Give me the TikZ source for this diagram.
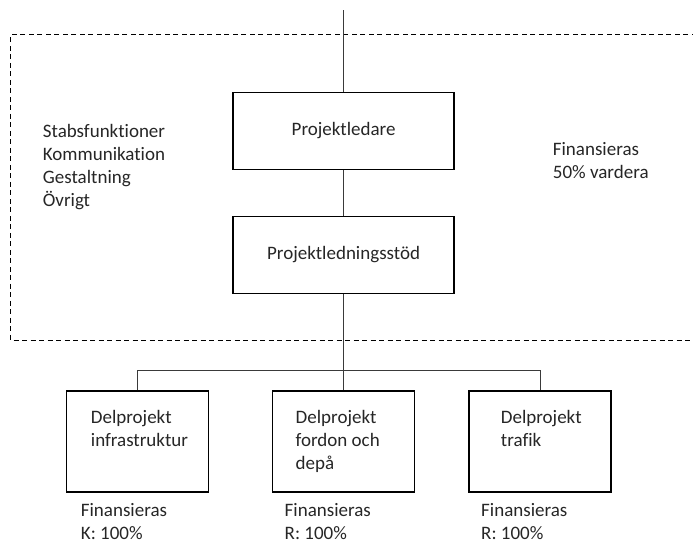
\documentclass[tikz,border=0pt]{standalone}
\usepackage{fontspec}
\setmainfont{Carlito}[Ligatures=NoCommon]
\definecolor{linegray}{HTML}{3A3A3A}
\definecolor{textgray}{HTML}{262626}

\begin{document}
\begin{tikzpicture}[x=1pt,y=-1pt,
    font=\fontsize{19}{23}\selectfont, text=textgray,
    orgbox/.style={draw=black, line width=1.3pt, minimum width=221pt, minimum height=77pt, inner sep=0pt},
    subbox/.style={draw=black, line width=1.3pt, minimum width=142pt, minimum height=101pt, inner sep=0pt},
    plain/.style={anchor=base west, align=left, inner sep=0pt},
    conn/.style={draw=linegray, line width=0.8pt}]
    \useasboundingbox (0,0) rectangle (693,542);
    % dashed frame, open to the right
    \draw[line width=1pt, dash pattern=on 5pt off 3.5pt] (705,34.5) -| (10.8,340.5) -- (705,340.5);
    \node[orgbox] (pl) at (343.6,131) {Projektledare};
    \node[orgbox] (pls) at (343.6,255) {Projektledningsstöd};
    \node[subbox] (dpinfra) at (137.5,441.5) {};
    \node[subbox] (dpfordon) at (343.6,441.5) {};
    \node[subbox] (dptrafik) at (540,441.5) {};
    \coordinate (top) at (343.6,10);
    % base = last line
    \node[plain] (stab) at (42.7,206.5) {Stabsfunktioner\\Kommunikation\\Gestaltning\\Övrigt};
    \node[plain] (finpl) at (552.7,178) {Finansieras\\50\% vardera};
    \node[plain] (txtinfra) at (90.7,446.5) {Delprojekt\\infrastruktur};
    \node[plain] (txtfordon) at (295.5,469.5) {Delprojekt\\fordon och\\depå};
    \node[plain] (txttrafik) at (500.7,446.5) {Delprojekt\\trafik};
    \node[plain] (fininfra) at (80.7,539.5) {Finansieras\\K: 100\%};
    \node[plain] (finfordon) at (284.5,539.5) {Finansieras\\R: 100\%};
    \node[plain] (fintrafik) at (481,539.5) {Finansieras\\R: 100\%};
    \draw[conn] (top) -- (pl.north);
    \draw[conn] (pl.south) -- (pls.north);
    \draw[conn] (pls.south) -- (dpfordon.north);
    \draw[conn] (dpinfra.north) -- ++(0,-20.3) -| (dptrafik.north);
\end{tikzpicture}
\end{document}
